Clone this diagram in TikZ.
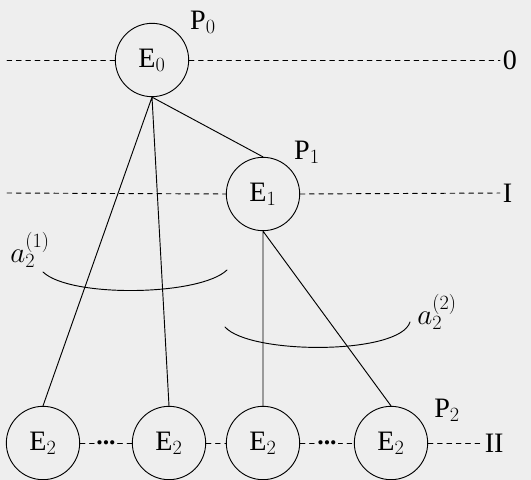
\documentclass[tikz,border=0pt]{standalone}
\usepackage{fontspec}
\setmainfont{Liberation Serif}
\begin{document}
\begin{tikzpicture}[x=0.03cm,y=-0.03cm,line join=round,line cap=round,
		font=\fontsize{24}{28}\selectfont,
		elem/.style={draw,circle,minimum size=2.2cm,inner sep=0pt,line width=0.8pt},
		lvl/.style={line width=0.8pt,dash pattern=on 4pt off 4pt}]
	\fill[gray!13] (0,0) rectangle (531,480);
	\useasboundingbox (0,0) rectangle (531,480);
	% elements
	\node[elem] (E0) at (152,60) {E$_0$};
	\node[elem] (E1) at (263,194) {E$_1$};
	\foreach \n/\x in {a/43,b/169,c/263,d/391}
	{\node[elem] (E2\n) at (\x,443) {E$_2$};}
	% levels
	\path (7,60) coordinate (L0a) (500,60) coordinate (L0b)
	(7,193) coordinate (L1a) (500,193) coordinate (L1b)
	(482,443) coordinate (L2b);
	\draw[lvl] (L0a)--(E0.west) (E0.east)--(L0b) node[right,inner sep=2pt]{0};
	\draw[lvl] (L1a)--(E1.west) (E1.east)--(L1b) node[right,inner sep=2pt]{I};
	\draw[lvl] (E2a.east)--(E2b.west) node[midway,fill=gray!13,inner sep=1pt,font=\fontsize{22}{24}\bfseries]{...};
	\draw[lvl] (E2b.east)--(E2c.west);
	\draw[lvl] (E2c.east)--(E2d.west) node[midway,fill=gray!13,inner sep=1pt,font=\fontsize{22}{24}\bfseries]{...};
	\draw[lvl] (E2d.east)--(L2b) node[right,inner sep=2pt]{II};
	% links
	\draw[line width=0.8pt] (E0.south)--(E2a.north) (E0.south)--(E2b.north) (E0.south)--(E1.north);
	\draw[line width=0.8pt] (E1.south)--(E2c.north) (E1.south)--(E2d.north);
	% angles
	\draw[line width=0.8pt] (43,272) .. controls (70,298) and (200,296) .. (227,270);
	\draw[line width=0.8pt] (225,327) .. controls (250,355) and (400,355) .. (410,322);
	\node[font=\fontsize{26}{30}\selectfont] (A1) at (30,250) {$a_2^{(1)}$};
	\node[font=\fontsize{26}{30}\selectfont] (A2) at (437,312) {$a_2^{(2)}$};
	% labels
	\node (P0) at (203,22) {P$_0$};
	\node (P1) at (307,152) {P$_1$};
	\node (P2) at (447,410) {P$_2$};
\end{tikzpicture}
\end{document}
